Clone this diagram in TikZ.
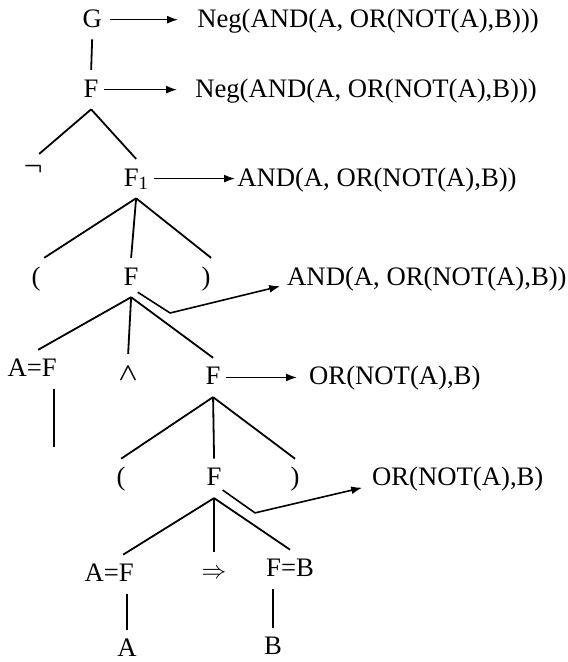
\documentclass[tikz,border=0pt]{standalone}
\usepackage{bm}
\usepackage{fontspec}
\setmainfont{Liberation Serif}
\usetikzlibrary{arrows.meta}
\tikzset{
  tnode/.style={anchor=base,inner xsep=5bp,inner ysep=9bp,text height=18bp,text depth=3bp},
  lnode/.style={anchor=base west,inner xsep=2bp,inner ysep=9bp,text height=18bp,text depth=3bp},
  branch/.style={line width=1.8bp},
  link/.style={->,line width=1.6bp},
}
\begin{document}
\begin{tikzpicture}[>={Latex[length=11bp,width=8bp]},line join=bevel,font=\fontsize{26.7bp}{31bp}\selectfont]
%%
\begin{scope}
  \filldraw [white] (0bp,0bp) rectangle (567bp,662bp);
\end{scope}
  \useasboundingbox (0bp,0bp) rectangle (567bp,662bp);
% tree nodes
  \node (g) at (92bp,635bp) [tnode] {G};
  \node (f2) at (91bp,565bp) [tnode] {F};
  \node (nt) at (33bp,488bp) [tnode,text height=11bp] {$\bm{\neg}$};
  \node (f1) at (136bp,476bp) [tnode] {F\textsubscript{1}};
  \node (lp1) at (36bp,377bp) [tnode] {(};
  \node (f3) at (131bp,377bp) [tnode] {F};
  \node (rp1) at (206bp,377bp) [tnode] {)};
  \node (af1) at (32bp,285bp) [tnode] {A=F};
  \node (wedge) at (128bp,281bp) [tnode,font=\fontsize{23bp}{23bp}\selectfont] {$\bm{\wedge}$};
  \node (f4) at (213bp,277bp) [tnode] {F};
  \node (lp2) at (121bp,176bp) [tnode] {(};
  \node (f5) at (214bp,176bp) [tnode] {F};
  \node (rp2) at (295bp,176bp) [tnode] {)};
  \node (af2) at (109bp,80bp) [tnode] {A=F};
  \node (imp) at (214bp,83bp) [tnode] {$\Rightarrow$};
  \node (fb) at (290bp,85bp) [tnode] {F=B};
  \node (a) at (127bp,5bp) [tnode] {A};
  \node (b) at (273bp,7bp) [tnode] {B};
% translations
  \node (neg1) at (195bp,635bp) [lnode] {Neg(AND(A, OR(NOT(A),B)))};
  \node (neg2) at (193bp,565bp) [lnode] {Neg(AND(A, OR(NOT(A),B)))};
  \node (and1) at (235bp,476bp) [lnode] {AND(A, OR(NOT(A),B))};
  \node (and2) at (285bp,377bp) [lnode] {AND(A, OR(NOT(A),B))};
  \node (or1) at (307bp,277bp) [lnode] {OR(NOT(A),B)};
  \node (or2) at (370bp,176bp) [lnode] {OR(NOT(A),B)};
  \coordinate (k1) at (170bp,349bp);
  \coordinate (k2) at (255bp,149bp);
  \coordinate (af1end) at (54bp,215bp);
% branches
  \draw [branch] (g.south) -- (f2.north);
  \draw [branch] (f2.south) -- ([xshift=6bp]nt.north);
  \draw [branch] (f2.south) -- (f1.north);
  \draw [branch] (f1.south) -- ([xshift=8bp]lp1.north);
  \draw [branch] (f1.south) -- (f3.north);
  \draw [branch] (f1.south) -- ([xshift=5bp]rp1.north);
  \draw [branch] (f3.south) -- ([xshift=6bp]af1.north);
  \draw [branch] (f3.south) -- (wedge.north);
  \draw [branch] (f3.south) -- (f4.north);
  \draw [branch] (af1end |- af1.south) -- (af1end);
  \draw [branch] (f4.south) -- (lp2.north);
  \draw [branch] (f4.south) -- (f5.north);
  \draw [branch] (f4.south) -- (rp2.north);
  \draw [branch] (f5.south) -- ([xshift=14bp]af2.north);
  \draw [branch] (f5.south) -- (imp.north);
  \draw [branch] (f5.south) -- (fb.north);
  \draw [branch] (a.north |- af2.south) -- (a.north);
  \draw [branch] (b.north |- fb.south) -- (b.north);
% arrows
  \draw [link,shorten <=3bp,shorten >=17bp] (g) -- (neg1);
  \draw [link,shorten >=16bp] (f2) -- (neg2);
  \draw [link] (f1) -- (and1);
  \draw [link,shorten >=10bp] (f4) -- (or1);
  \draw [link,shorten >=5bp] ([shift={(-6bp,5bp)}]f3.south east) -- (k1) -- (and2.base west);
  \draw [link,shorten >=8bp] ([shift={(-4bp,8bp)}]f5.south east) -- (k2) -- (or2.base west);
%
\end{tikzpicture}
\end{document}
